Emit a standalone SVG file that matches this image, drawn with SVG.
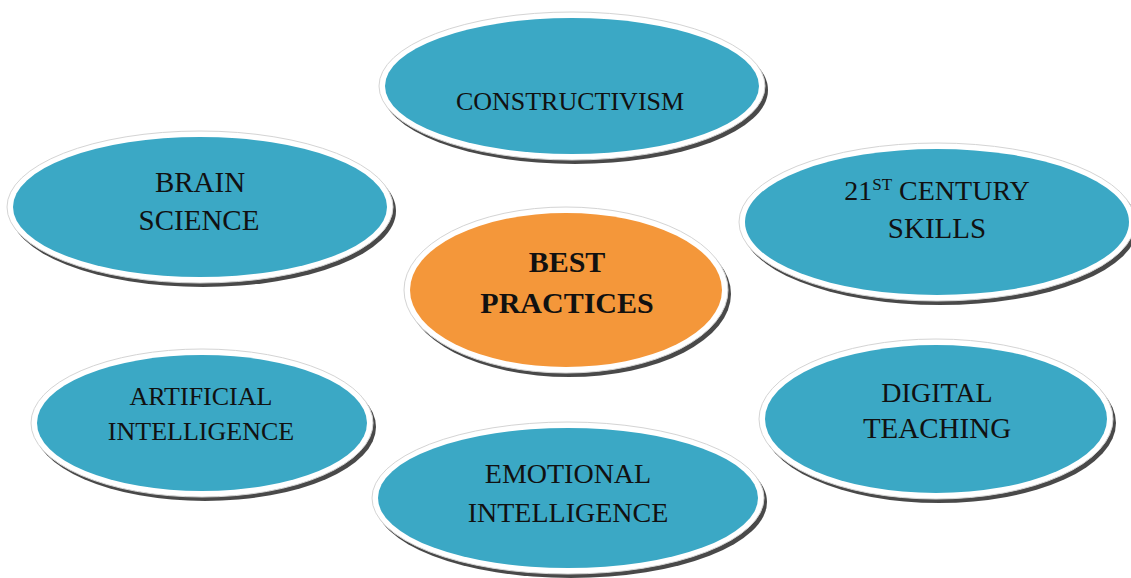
<svg xmlns="http://www.w3.org/2000/svg" width="1131" height="578" viewBox="0 0 1131 578">
<defs>
<filter id="blur" x="-10%" y="-10%" width="120%" height="120%"><feGaussianBlur stdDeviation="0.7"/></filter>
</defs>
<style>
.sh{fill:#4a4a4a;filter:url(#blur)}
.ring{fill:#ffffff;stroke:#d4d4d4;stroke-width:1}
.blue{fill:#3ba8c5}
.orange{fill:#f4973a}
text{font-family:"Liberation Serif","Times New Roman",serif;fill:#111;text-anchor:middle}
.b{font-weight:bold}
</style>
<rect width="1131" height="578" fill="#ffffff"/>
<g id="connectors"/>
<g id="constructivism">
<ellipse class="sh" cx="575" cy="90" rx="193" ry="74"/>
<ellipse class="ring" cx="572" cy="86" rx="193" ry="74"/>
<ellipse class="blue" cx="572" cy="86" rx="187" ry="68"/>
<text x="570" y="110" font-size="26">CONSTRUCTIVISM</text>
</g>
<g id="brain-science">
<ellipse class="sh" cx="203" cy="211" rx="193" ry="76"/>
<ellipse class="ring" cx="200" cy="207" rx="193" ry="76"/>
<ellipse class="blue" cx="200" cy="207" rx="187" ry="70"/>
<text x="200" y="192" font-size="29">BRAIN</text>
<text x="199" y="230" font-size="29">SCIENCE</text>
</g>
<g id="century-skills">
<ellipse class="sh" cx="940" cy="226" rx="198" ry="79"/>
<ellipse class="ring" cx="937" cy="222" rx="198" ry="79"/>
<ellipse class="blue" cx="937" cy="222" rx="192" ry="73"/>
<text x="937" y="200" font-size="28">21<tspan font-size="17" dy="-10">ST</tspan><tspan dy="10"> CENTURY</tspan></text>
<text x="937" y="238" font-size="29">SKILLS</text>
</g>
<g id="best-practices">
<ellipse class="sh" cx="569" cy="294" rx="162" ry="83"/>
<ellipse class="ring" cx="566" cy="290" rx="162" ry="83"/>
<ellipse class="orange" cx="566" cy="290" rx="156" ry="77"/>
<text class="b" x="567" y="272" font-size="30">BEST</text>
<text class="b" x="567" y="313" font-size="30">PRACTICES</text>
</g>
<g id="artificial-intelligence">
<ellipse class="sh" cx="205" cy="427" rx="171" ry="74"/>
<ellipse class="ring" cx="202" cy="423" rx="171" ry="74"/>
<ellipse class="blue" cx="202" cy="423" rx="165" ry="68"/>
<text x="201" y="405" font-size="26">ARTIFICIAL</text>
<text x="201" y="440" font-size="26">INTELLIGENCE</text>
</g>
<g id="emotional-intelligence">
<ellipse class="sh" cx="571" cy="502" rx="196" ry="76"/>
<ellipse class="ring" cx="568" cy="498" rx="196" ry="76"/>
<ellipse class="blue" cx="568" cy="498" rx="190" ry="70"/>
<text x="568" y="483" font-size="28">EMOTIONAL</text>
<text x="568" y="522" font-size="28">INTELLIGENCE</text>
</g>
<g id="digital-teaching">
<ellipse class="sh" cx="939" cy="423" rx="177" ry="80"/>
<ellipse class="ring" cx="936" cy="419" rx="177" ry="80"/>
<ellipse class="blue" cx="936" cy="419" rx="171" ry="74"/>
<text x="937" y="402" font-size="28">DIGITAL</text>
<text x="937" y="438" font-size="29">TEACHING</text>
</g>
</svg>
